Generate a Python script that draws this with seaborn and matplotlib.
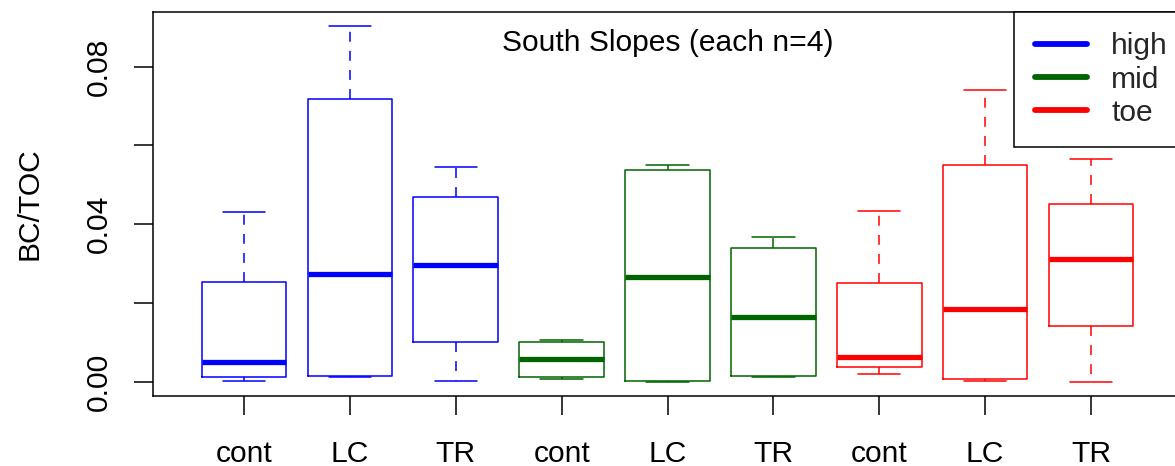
import numpy as np
import pandas as pd
import matplotlib
matplotlib.use("Agg")
import matplotlib.pyplot as plt
from matplotlib.lines import Line2D
import seaborn as sns

# ---- data (five-number summaries: min, lower hinge, median, upper hinge, max)
slopes = ["high", "mid", "toe"]
treatments = ["cont", "LC", "TR"]
high_cont = [0.0001, 0.0012, 0.0051, 0.0254, 0.0431]
high_LC = [0.0012, 0.0014, 0.0274, 0.0717, 0.0904]
high_TR = [0.0003, 0.0100, 0.0296, 0.0468, 0.0545]
mid_cont = [0.0006, 0.0013, 0.0058, 0.0102, 0.0106]
mid_LC = [0.0000, 0.0003, 0.0265, 0.0538, 0.0551]
mid_TR = [0.0011, 0.0015, 0.0164, 0.0339, 0.0368]
toe_cont = [0.0020, 0.0038, 0.0062, 0.0250, 0.0434]
toe_LC = [0.0003, 0.0006, 0.0185, 0.0551, 0.0742]
toe_TR = [0.0000, 0.0142, 0.0311, 0.0451, 0.0566]
tick_labels = ["cont", "LC", "TR", "cont", "LC", "TR", "cont", "LC", "TR"]
y_ticks = [0.00, 0.02, 0.04, 0.06, 0.08]
y_tick_labels = ["0.00", "", "0.04", "", "0.08"]
title_text = "South Slopes (each n=4)"
y_label = "BC/TOC"
colors = {"high": "#0000FF", "mid": "#006400", "toe": "#FF0000"}

groups = {
    ("high", "cont"): high_cont, ("high", "LC"): high_LC, ("high", "TR"): high_TR,
    ("mid", "cont"): mid_cont, ("mid", "LC"): mid_LC, ("mid", "TR"): mid_TR,
    ("toe", "cont"): toe_cont, ("toe", "LC"): toe_LC, ("toe", "TR"): toe_TR,
}
rows = []
order = []
for s in slopes:
    for t in treatments:
        key = f"{s} {t}"
        order.append(key)
        for v in groups[(s, t)]:
            rows.append({"group": key, "slope": s, "value": v})
df = pd.DataFrame(rows)

sns.set_theme(style="ticks")
plt.rcParams["font.family"] = ["Liberation Sans", "DejaVu Sans"]
plt.rcParams["axes.linewidth"] = 1.1

FS = 21.6
fig = plt.figure(figsize=(11.75, 4.66), dpi=100)
ax = fig.add_axes([153 / 1175, 1 - 396 / 466, (1182 - 153) / 1175, (396 - 12) / 466])

lw = 1.1
sns.boxplot(
    data=df, x="group", y="value", hue="slope", order=order, hue_order=slopes,
    palette=colors, fill=False, dodge=False, width=0.8, whis=(0, 100),
    linewidth=lw, legend=False, ax=ax,
    medianprops=dict(linewidth=3.8, solid_capstyle="butt"),
    whiskerprops=dict(linestyle=(0, (6.5, 6.0)), linewidth=lw),
    capprops=dict(linewidth=lw),
    boxprops=dict(linewidth=lw),
)

ax.set_xlim(-0.86, 8.86)
ax.set_ylim(-0.00363, 0.0939)
ax.set_xticks(range(len(tick_labels)))
ax.set_xticklabels(tick_labels)
ax.set_yticks(y_ticks)
ax.set_yticklabels(y_tick_labels)
ax.tick_params(axis="x", length=13.7, width=1.1, pad=18, labelsize=FS, colors="black")
ax.tick_params(axis="y", length=13.7, width=1.1, pad=15, labelsize=FS, labelrotation=90, colors="black")
for lab in ax.get_yticklabels():
    lab.set_va("center")
ax.set_xlabel("")
ax.set_ylabel(y_label, fontsize=FS, labelpad=30, color="black")
for sp in ax.spines.values():
    sp.set_visible(True)
    sp.set_color("black")
    sp.set_linewidth(1.1)

ax.text(0.5, (396 - 43) / 384, title_text, transform=ax.transAxes,
        ha="center", va="center", fontsize=FS, color="black")

handles = [Line2D([0], [0], color=colors[s], lw=4.2, solid_capstyle="round") for s in slopes]
leg = ax.legend(handles, slopes, loc="upper left",
                bbox_to_anchor=((1014.5 - 153) / 1029, 1.0), borderaxespad=0,
                fontsize=FS, frameon=True, fancybox=False, framealpha=1,
                edgecolor="black", handlelength=1.75, handletextpad=0.8,
                borderpad=0.67, labelspacing=0.18)
leg.get_frame().set_linewidth(1.1)

fig.savefig("out.png", dpi=100)
